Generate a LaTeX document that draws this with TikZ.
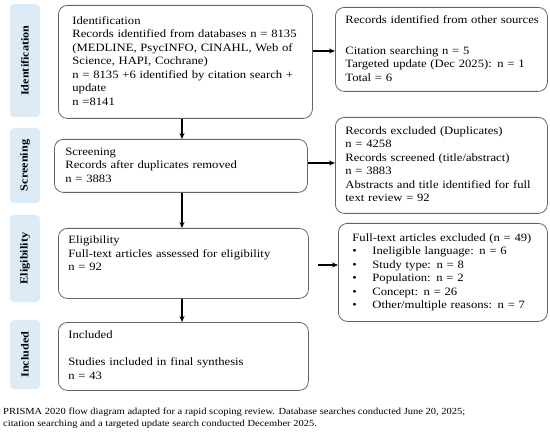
\documentclass[tikz,border=0pt]{standalone}
\usepackage{fontspec}
\setmainfont{Liberation Serif}[FakeStretch=1.13]
\usetikzlibrary{arrows.meta}
\definecolor{labblue}{RGB}{221,235,247}
\definecolor{boxgray}{RGB}{100,100,100}
\newcommand\tb[1]{\begin{tabular}{@{}l@{}}#1\end{tabular}}
\begin{document}
\begin{tikzpicture}[x=1pt,y=-1pt,
  box/.style={draw=boxgray, line width=0.8pt, rounded corners=9pt, anchor=north west,
    align=left, inner sep=0pt, font=\fontsize{11.2}{13.5}\selectfont},
  lab/.style={fill=labblue, rounded corners=4pt, rotate=90, minimum height=30pt,
    inner sep=0pt, font=\bfseries\fontsize{10.8}{12}\selectfont},
  arr/.style={-{Stealth[length=6pt,width=5pt]}, line width=1.2pt},
  captext/.style={anchor=north west, align=left, inner sep=0pt, font=\fontsize{9.3}{12}\selectfont}]
\useasboundingbox (0,0) rectangle (550,436);
% side labels
\node[lab, minimum width=113pt] (lid) at (25,60.5) {Identification};
\node[lab, minimum width=75pt] (lsc) at (25,165.5) {Screening};
\node[lab, minimum width=87pt] (lel) at (25,258.5) {Eligibility};
\node[lab, minimum width=69pt] (lin) at (25,354.5) {Included};
% main boxes
\node[box, minimum width=254pt, minimum height=113pt, text width=226pt] (b1) at (58,5)
  {\tb{Identification\\
  Records identified from databases n = 8135\\
  (MEDLINE, PsycINFO, CINAHL, Web of\\
  Science, HAPI, Cochrane)\\
  n = 8135 +6 identified by citation search +\\
  update\\
  n =8141}};
\node[box, minimum width=253pt, minimum height=53pt, text width=231pt] (b2) at (54,139)
  {\tb{Screening\\
  Records after duplicates removed\\
  n = 3883}};
\node[box, minimum width=250pt, minimum height=70pt, text width=230pt] (b3) at (58,228)
  {\tb{Eligibility\\
  Full-text articles assessed for eligibility\\
  n = 92\\[4pt]
  \mbox{}}};
\node[box, minimum width=250pt, minimum height=68pt, text width=230pt] (b4) at (58,322)
  {\tb{Included\\[13.5pt]
  Studies included in final synthesis\\
  n = 43}};
% right boxes
\node[box, minimum width=212pt, minimum height=84pt, text width=192pt] (r1) at (335,7)
  {\tb{Records identified from other sources\\[17.5pt]
  Citation searching n = 5\\
  Targeted update (Dec 2025): n = 1\\
  Total = 6}};
\node[box, minimum width=212pt, minimum height=96pt, text width=192pt] (r2) at (335,117)
  {\tb{Records excluded (Duplicates)\\
  n = 4258\\
  Records screened (title/abstract)\\
  n = 3883\\
  Abstracts and title identified for full\\
  text review = 92}};
\node[box, minimum width=209pt, minimum height=98pt, text width=181pt] (r3) at (338,223)
  {\tb{Full-text articles excluded (n = 49)\\
  \makebox[20pt][l]{\textbullet}Ineligible language: n = 6\\
  \makebox[20pt][l]{\textbullet}Study type: n = 8\\
  \makebox[20pt][l]{\textbullet}Population: n = 2\\
  \makebox[20pt][l]{\textbullet}Concept: n = 26\\
  \makebox[20pt][l]{\textbullet}Other/multiple reasons: n = 7}};
% arrows
\coordinate (ax) at (182,0);
\draw[arr] (b1.south -| ax) -- (b2.north -| ax);
\draw[arr] (b2.south -| ax) -- (b3.north -| ax);
\draw[arr] (b3.south -| ax) -- (b4.north -| ax);
\draw[arr] (b1.east |- 0,51) -- (r1.west |- 0,51);
\draw[arr] (b2.east |- 0,163) -- (r2.west |- 0,163);
\draw[arr, shorten <=9pt] (b3.east |- 0,265) -- (r3.west |- 0,265);
% caption
\node[captext] (captxt) at (3,408) {PRISMA 2020 flow diagram adapted for a rapid scoping review. Database searches conducted June 20, 2025;\\
citation searching and a targeted update search conducted December 2025.};
\end{tikzpicture}
\end{document}
